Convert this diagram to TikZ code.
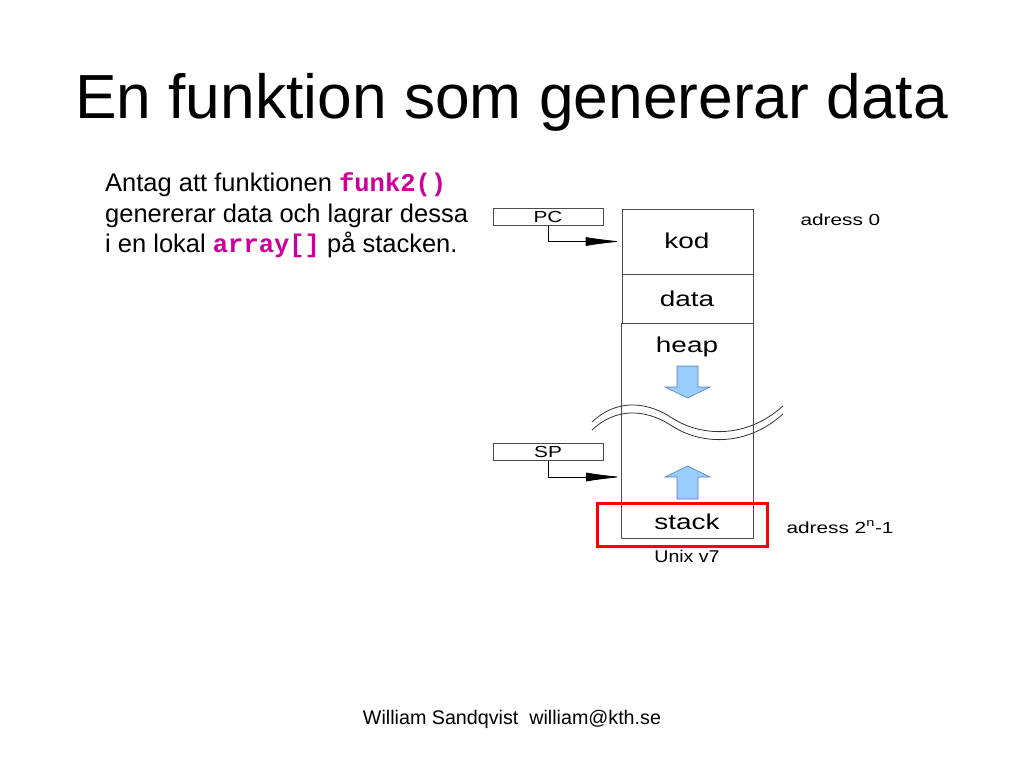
\documentclass[tikz,border=0pt]{standalone}
\usepackage{fontspec}
\setmainfont{Liberation Sans}
\newfontfamily\codefont{Liberation Mono}
\usetikzlibrary{arrows.meta}
\definecolor{kodrosa}{RGB}{204,0,153}
\definecolor{pilbla}{RGB}{153,204,255}
\definecolor{pilkant}{RGB}{80,130,190}
\newcommand{\kodtxt}[1]{{\codefont\bfseries\color{kodrosa}#1}}
\newcommand{\bred}[1]{\scalebox{1.3}[1]{#1}}

\begin{document}
\begin{tikzpicture}[x={(1pt,0pt)}, y={(0pt,-1pt)}]
\tikzset{cell/.style={draw=black!70, line width=0.8pt, minimum width=131pt, inner sep=0pt},
  regbox/.style={draw=black!70, line width=0.8pt, minimum width=110pt, minimum height=17pt, inner sep=0pt, font=\fontsize{16}{16}\selectfont},
  minlbl/.style={font=\fontsize{21.5}{21.5}\selectfont},
  smalbl/.style={font=\fontsize{16}{16}\selectfont, anchor=base west},
  ptr/.style={line width=0.8pt, -{Latex[length=36pt, width=9pt]}},
  blapil/.style={fill=pilbla, draw=pilkant, line width=0.6pt},
  vag/.style={line width=0.8pt, black!80}}
\useasboundingbox (0,0) rectangle (1024,768);
% rubrik
\node[anchor=base, font=\fontsize{62.3}{62.3}\selectfont] (rubrik) at (511.5,118) {En funktion som genererar data};
% text till vanster
\node[anchor=base west, font=\fontsize{25.5}{31}\selectfont, inner sep=0pt] (rad1) at (105,191) {Antag att funktionen \kodtxt{funk2()}};
\node[anchor=base west, font=\fontsize{25.5}{31}\selectfont, inner sep=0pt] (rad2) at (105,222) {genererar data och lagrar dessa};
\node[anchor=base west, font=\fontsize{25.5}{31}\selectfont, inner sep=0pt] (rad3) at (105,252) {i en lokal \kodtxt{array[]} på stacken.};
% minnet
\node[cell, minimum height=65pt] (kod) at (687.5,241.5) {};
\node[cell, minimum height=49pt] (data) at (687.5,298.5) {};
\draw[draw=black!70, line width=0.8pt] (data.south west) rectangle (753,538);
\node[minlbl] (kodtxt) at (687,241) {\bred{kod}};
\node[minlbl] (datatxt) at (687,299) {\bred{data}};
\node[minlbl] (heap) at (687,347) {\bred{heap}};
\node[minlbl] (stack) at (687,522) {\bred{stack}};
% pilar for heap och stack
\draw[blapil] (677,366) -- (698,366) -- (698,387) -- (710,387) -- (687.5,398) -- (665,387) -- (677,387) -- cycle;
\draw[blapil] (677,499) -- (698,499) -- (698,477) -- (710,477) -- (687.5,466) -- (665,477) -- (677,477) -- cycle;
% vagor
\draw[vag] (592,422) .. controls (615,400) and (645,400) .. (672,418) .. controls (700,436) and (745,440) .. (783,406);
\draw[vag] (592,430) .. controls (615,408) and (645,408) .. (672,426) .. controls (700,444) and (745,448) .. (783,414);
% register
\node[regbox] (pc) at (548,217) {\bred{PC}};
\node[regbox] (sp) at (548,452) {\bred{SP}};
\coordinate (sptip) at (622,477);
\draw[ptr] (pc.south) |- (kod.west);
\draw[ptr] (sp.south) |- (sptip);
% markering
\draw[red, line width=3pt] (597,503) rectangle (767,546);
% adresser
\node[smalbl] (adr0) at (797,225) {\bred{adress 0}};
\node[smalbl] (adrn) at (783,533) {\bred{adress 2\textsuperscript{n}-1}};
\node[anchor=base, font=\fontsize{17}{17}\selectfont] (unix) at (687,562) {\scalebox{1.15}[1]{Unix v7}};
% fot
\node[anchor=base, font=\fontsize{19.7}{19.7}\selectfont] (fot) at (512,724) {William Sandqvist\ \ william@kth.se};
\end{tikzpicture}
\end{document}
